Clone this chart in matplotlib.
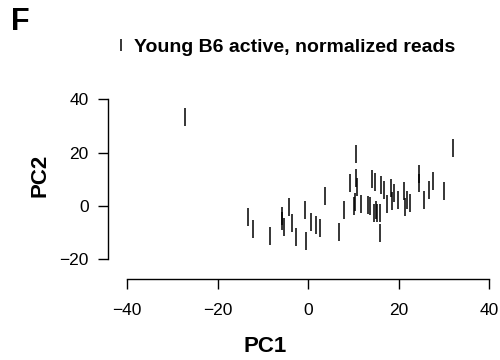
import matplotlib
matplotlib.use("Agg")
import matplotlib.pyplot as plt

plt.rcParams['font.family'] = ['Liberation Sans', 'DejaVu Sans']

# PCA scores
pc1 = [-27.3, -13.3, -12.3, -8.5, -5.9, -5.7, -5.3, -4.3, -3.6, -2.6,
       -0.7, -0.4, 0.5, 1.8, 2.5, 3.6, 6.9, 7.8, 9.2, 10.6,
       10.6, 10.7, 10.4, 10.2, 11.7, 13.3, 13.6, 14.0, 14.7, 14.5,
       14.9, 15.3, 15.9, 15.9, 16.1, 16.8, 17.5, 18.3, 18.5, 18.9,
       19.8, 21.2, 21.3, 21.8, 22.4, 24.5, 24.5, 25.5, 26.6, 27.5,
       30.0, 31.9]
pc2 = [33.5, -4.3, -8.6, -11.1, -5.6, -3.9, -7.9, -0.4, -6.5, -11.6,
       -1.4, -13.0, -6.0, -7.0, -8.4, 3.75, -9.6, -1.7, 8.5, 19.6,
       10.5, 7.0, 1.5, -0.2, 0.9, 0.4, 0.0, 10.3, 8.9, -2.5,
       -1.5, -2.5, -2.5, -10.3, 8.0, 6.1, 0.6, 6.75, 1.75, 4.9,
       2.4, 5.5, -0.3, 2.1, 1.1, 12.1, 8.6, 2.25, 6.0, 9.5,
       5.75, 21.75]
series_label = "Young B6 active, normalized reads"
xticks = [-40, -20, 0, 20, 40]
yticks = [-20, 0, 20, 40]

W, H = 500, 360
fig = plt.figure(figsize=(W / 100, H / 100), dpi=100)

# axes placed in pixel terms (left spine at 108px, bottom spine at 279px)
left, right, bottom, top = 108.3, 496, 279, 90
ax = fig.add_axes([left / W, 1 - bottom / H, (right - left) / W, (bottom - top) / H])
ax.set_xlim(-44.2, 41.5)
ax.set_ylim(-27.4, 43.5)

ax.plot(pc1, pc2, linestyle='none', marker='|', markersize=12.5,
        markeredgewidth=1.1, color='black', label=series_label)

for s in ['top', 'right']:
    ax.spines[s].set_visible(False)
ax.spines['left'].set_bounds(-20, 40)
ax.spines['bottom'].set_bounds(-40, 40)
for s in ['left', 'bottom']:
    ax.spines[s].set_linewidth(1.0)

ax.set_xticks(xticks)
ax.set_yticks(yticks)
ax.set_xticklabels(['\u2212' + str(-t) if t < 0 else str(t) for t in xticks])
ax.set_yticklabels(['\u2212' + str(-t) if t < 0 else str(t) for t in yticks])
ax.tick_params(axis='both', direction='out', length=7, width=1.0, labelsize=12.5)
ax.tick_params(axis='x', pad=10)
ax.tick_params(axis='y', pad=7)

fig.text(265 / W, 1 - 347 / H, "PC1", fontsize=16, fontweight='bold',
         ha='center', va='center')
fig.text(40 / W, 1 - 175 / H, "PC2", fontsize=16, fontweight='bold',
         ha='center', va='center', rotation=90)
fig.text(20 / W, 1 - 22 / H, "F", fontsize=22, fontweight='bold',
         ha='center', va='center')

leg = ax.legend(loc='center', bbox_to_anchor=(286 / W, 1 - 47 / H),
                bbox_transform=fig.transFigure, frameon=False,
                handlelength=0.4, handletextpad=0.5, markerscale=0.7,
                prop={'weight': 'bold', 'size': 14})

fig.savefig("out.png", dpi=100)
